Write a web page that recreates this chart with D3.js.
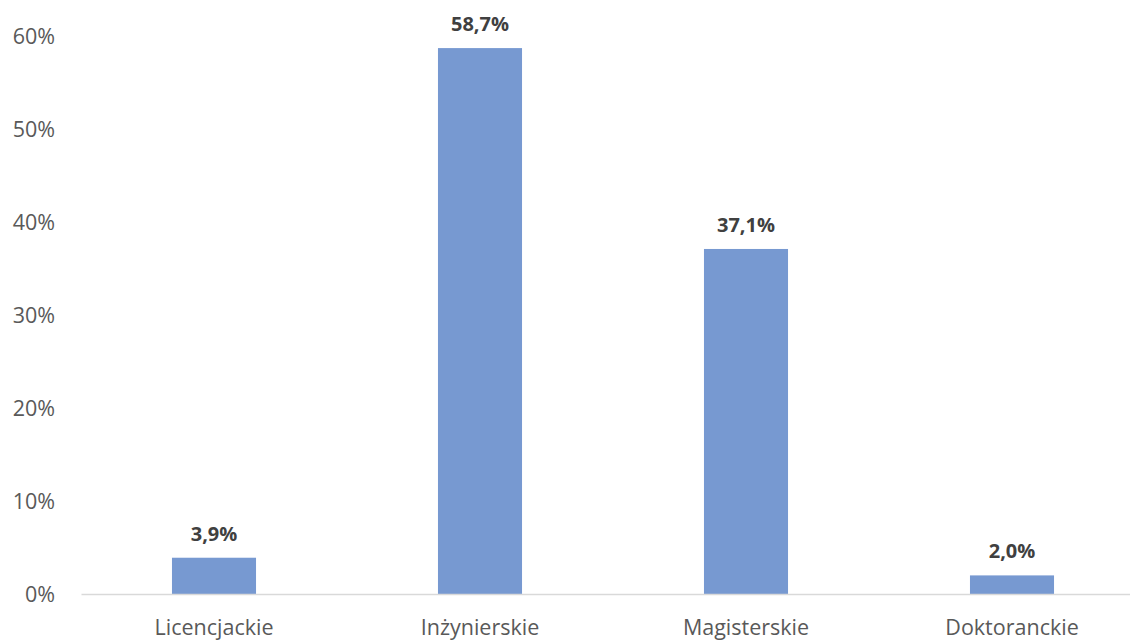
<!DOCTYPE html>
<html>
<head>
<meta charset="utf-8">
<script src="https://cdn.jsdelivr.net/npm/d3@7"></script>
<style>
  body { margin: 0; background: #fff; }
  svg { display: block; font-family: "Open Sans", sans-serif; }
</style>
</head>
<body>
<svg id="chart" width="1130" height="640"></svg>
<script>
const categories = ['Licencjackie', 'Inżynierskie', 'Magisterskie', 'Doktoranckie'];
const values = [3.9, 58.7, 37.1, 2.0];
const yTicks = [0, 10, 20, 30, 40, 50, 60];

const width = 1130;
const height = 640;
const svg = d3.select('#chart');

const xScale = d3.scaleBand().domain(categories).range([81, 1145]).paddingInner(0.684).paddingOuter(0.342);
const yScale = d3.scaleLinear().domain([0, 60]).range([594, 36]);

const fmt = v => v.toFixed(1).replace('.', ',') + '%';

// y tick labels, no gridlines
svg.append('g')
    .selectAll('text')
    .data(yTicks)
    .join('text')
    .attr('x', 55)
    .attr('y', d => yScale(d))
    .attr('dy', '0.35em')
    .attr('text-anchor', 'end')
    .attr('fill', '#595959')
    .style('font-size', '21.5px')
    .text(d => d + '%');

// bars
svg.append('g')
    .selectAll('rect')
    .data(values)
    .join('rect')
    .attr('x', (d, i) => xScale(categories[i]))
    .attr('y', d => yScale(d))
    .attr('width', xScale.bandwidth())
    .attr('height', d => yScale(0) - yScale(d))
    .attr('fill', '#7799d1');

// baseline + category labels
const xAxis = d3.axisBottom(xScale).tickSize(0).tickPadding(0);
const gx = svg.append('g')
    .attr('transform', `translate(0,${yScale(0)})`)
    .call(xAxis);
gx.select('.domain').attr('stroke', '#d9d9d9').attr('stroke-width', 1.3);
gx.selectAll('text')
    .attr('y', 41)
    .attr('dy', null)
    .attr('fill', '#595959')
    .style('font-size', '21.5px')
    .style('font-family', '"Open Sans", sans-serif');

// value labels
svg.append('g')
    .selectAll('text')
    .data(values)
    .join('text')
    .attr('x', (d, i) => xScale(categories[i]) + xScale.bandwidth() / 2)
    .attr('y', d => yScale(d) - 17)
    .attr('text-anchor', 'middle')
    .attr('fill', '#404040')
    .style('font-size', '20px')
    .style('font-weight', 'bold')
    .text(d => fmt(d));
</script>
</body>
</html>
